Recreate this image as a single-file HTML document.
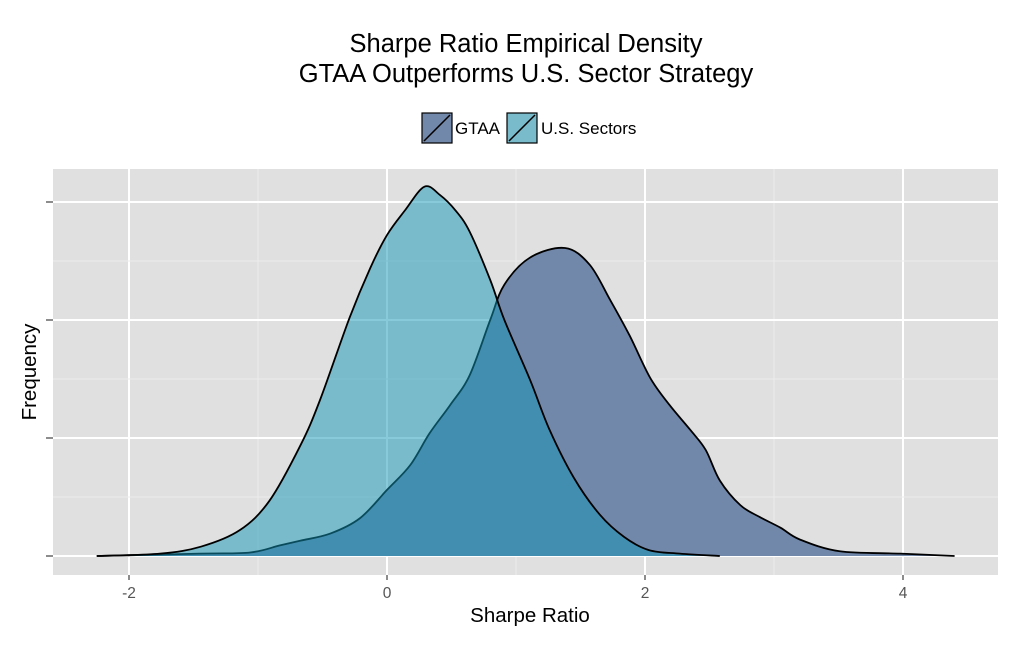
<!DOCTYPE html>
<html><head><meta charset="utf-8"><style>
body{margin:0;background:#fff;}
svg text{font-family:"Liberation Sans",sans-serif;}
</style></head><body>
<svg id="c" width="1024" height="640" xmlns="http://www.w3.org/2000/svg">
<text x="526" y="52" text-anchor="middle" font-size="25.5">Sharpe Ratio Empirical Density</text>
<text x="526" y="82" text-anchor="middle" font-size="25.5">GTAA Outperforms U.S. Sector Strategy</text>
<g>
<g>
<rect x="422" y="113" width="30" height="30" fill="#7288ab" stroke="#000" stroke-width="1.2"/>
<line x1="424" y1="141" x2="450" y2="115" stroke="#000" stroke-width="1.5"/>
<text x="455" y="134" font-size="17">GTAA</text></g>
<g>
<rect x="507" y="113" width="30" height="30" fill="#79bacb" stroke="#000" stroke-width="1.2"/>
<line x1="509" y1="141" x2="535" y2="115" stroke="#000" stroke-width="1.5"/>
<text x="541" y="134" font-size="17">U.S. Sectors</text></g>
</g>
<rect x="53" y="169" width="945" height="406" fill="#e0e0e0"/>
<g id="grid"></g>
<g id="marks"></g>
<g id="axes"></g>
<text x="530" y="622" text-anchor="middle" font-size="20.5">Sharpe Ratio</text>
<text transform="translate(36,372) rotate(-90)" text-anchor="middle" font-size="20.5">Frequency</text>
</svg>
<script>
const xTicks=[-2,0,2,4];
const yTicks=[0,1,2,3];
const usX=[-2.25,-1.76,-1.44,-1.14,-0.91,-0.67,-0.52,-0.29,-0.13,0,0.14,0.29,0.41,0.53,0.64,0.8,0.91,1.11,1.26,1.45,1.65,1.84,2.03,2.27,2.58];
const usY=[0,0.02,0.08,0.22,0.47,0.94,1.32,2.02,2.44,2.72,2.93,3.13,3.06,2.93,2.75,2.34,2.0,1.49,1.07,0.66,0.35,0.16,0.05,0.02,0];
const gtaaX=[-2.25,-1.45,-1.06,-0.83,-0.67,-0.44,-0.21,0,0.18,0.33,0.49,0.64,0.8,0.91,1.11,1.38,1.57,1.73,1.88,2.04,2.19,2.35,2.47,2.58,2.74,2.89,3.05,3.2,3.51,3.98,4.4];
const gtaaY=[0,0.02,0.03,0.09,0.13,0.19,0.32,0.56,0.77,1.04,1.28,1.53,2.0,2.3,2.53,2.61,2.47,2.17,1.87,1.51,1.28,1.07,0.9,0.64,0.43,0.33,0.24,0.14,0.04,0.02,0];
const sx=v=>387+v*129, sy=v=>556-v*118;
const NS='http://www.w3.org/2000/svg';
function mk(t,a,p){const e=document.createElementNS(NS,t);for(const k in a)e.setAttribute(k,a[k]);p.appendChild(e);return e;}
const grid=document.getElementById('grid'),marks=document.getElementById('marks'),axes=document.getElementById('axes');
for(let i=0;i<xTicks.length;i++){
 const v=xTicks[i];
 const l=mk('line',{x1:sx(v),x2:sx(v),y1:169,y2:575,stroke:'#fff','stroke-width':2},grid);
 
 
 if(i<xTicks.length-1){
 const m=mk('line',{x1:sx(v+1),x2:sx(v+1),y1:169,y2:575,stroke:'#ececec','stroke-width':1},grid);
 
 
 }
 mk('line',{x1:sx(v),x2:sx(v),y1:575,y2:580,stroke:'#666','stroke-width':1.5},axes);
 const t=mk('text',{x:sx(v),y:598,'text-anchor':'middle','font-size':15.5,fill:'#555'},axes);
 t.textContent=String(v);
 
 
}
for(let i=0;i<yTicks.length;i++){
 const v=yTicks[i];
 const l=mk('line',{x1:53,x2:998,y1:sy(v),y2:sy(v),stroke:'#fff','stroke-width':2},grid);
 
 
 if(i<yTicks.length-1){
 const m=mk('line',{x1:53,x2:998,y1:sy(v+0.5),y2:sy(v+0.5),stroke:'#ececec','stroke-width':1},grid);
 
 
 }
 mk('line',{x1:46,x2:53,y1:sy(v),y2:sy(v),stroke:'#666','stroke-width':1.5},axes);
}
function smooth(xs,ys){
 const P=xs.map((x,i)=>[sx(x),sy(ys[i])]);
 let d='M'+P[0][0]+','+P[0][1];
 for(let i=0;i<P.length-1;i++){
  const p0=P[Math.max(i-1,0)],p1=P[i],p2=P[i+1],p3=P[Math.min(i+2,P.length-1)];
  const c1=[p1[0]+(p2[0]-p0[0])/6,p1[1]+(p2[1]-p0[1])/6];
  const c2=[p2[0]-(p3[0]-p1[0])/6,p2[1]-(p3[1]-p1[1])/6];
  d+=' C'+c1[0]+','+c1[1]+' '+c2[0]+','+c2[1]+' '+p2[0]+','+p2[1];
 }
 return d;
}
const g=mk('path',{d:smooth(gtaaX,gtaaY)+' Z',fill:'#7288ab'},marks);


mk('path',{d:smooth(gtaaX,gtaaY),fill:'none',stroke:'#000','stroke-width':1.8,'stroke-linejoin':'round'},marks);
const u=mk('path',{d:smooth(usX,usY)+' Z',fill:'rgb(18,148,182)','fill-opacity':0.5},marks);


mk('path',{d:smooth(usX,usY),fill:'none',stroke:'#000','stroke-width':1.8,'stroke-linejoin':'round'},marks);
</script>
</body></html>
